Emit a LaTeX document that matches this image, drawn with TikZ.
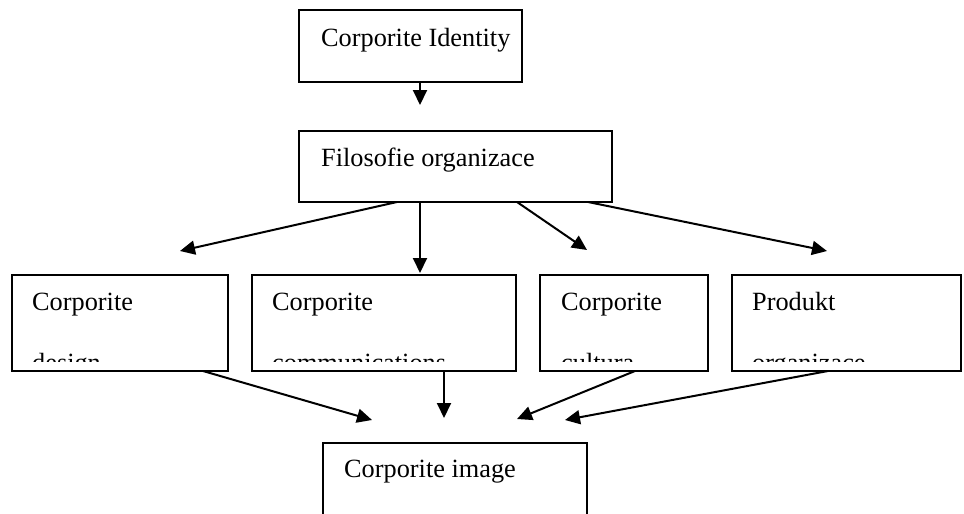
\documentclass[tikz,border=0pt]{standalone}
\usepackage{fontspec}
\setmainfont{Liberation Serif}
\usetikzlibrary{arrows.meta}
\begin{document}
\begin{tikzpicture}[x=1pt,y=-1pt,
  box/.style={draw,line width=2pt,inner sep=0pt,outer sep=0pt},
  lbl/.style={anchor=base west,inner sep=0pt,font=\fontsize{26.3}{30}\selectfont},
  arr/.style={line width=2pt,-{Triangle[length=15pt,width=14pt]}}]
\useasboundingbox (0,0) rectangle (964,514);
\clip (0,0) rectangle (964,514);
% boxes
\node[box,minimum width=223pt,minimum height=72pt] (top) at (410.5,46) {};
\node[box,minimum width=313pt,minimum height=71pt] (fil) at (455.5,166.5) {};
\node[box,minimum width=216pt,minimum height=96pt] (A) at (120,323) {};
\node[box,minimum width=264pt,minimum height=96pt] (B) at (384,323) {};
\node[box,minimum width=168pt,minimum height=96pt] (C) at (624,323) {};
\node[box,minimum width=229pt,minimum height=96pt] (D) at (846.5,323) {};
\node[box,minimum width=264pt,minimum height=97pt] (img) at (455,491.5) {};
% texts
\node[lbl] (ttop) at (321,46) {Corporite Identity};
\node[lbl] (tfil) at (321,166) {Filosofie organizace};
\node[lbl] (tA) at (32,310) {Corporite};
\node[lbl] (tB) at (272,310) {Corporite};
\node[lbl] (tC) at (561,310) {Corporite};
\node[lbl] (tD) at (752,310) {Produkt};
\node[lbl] (timg) at (344,477) {Corporite image};
\begin{scope}
\clip (0,275) rectangle (964,361);
\node[lbl] (tA2) at (32,371) {design};
\node[lbl] (tB2) at (272,371) {communications};
\node[lbl] (tC2) at (561,371) {cultura};
\node[lbl] (tD2) at (752,371) {organizace};
\end{scope}
% arrow tips
\coordinate (e1) at (420,105);
\coordinate (eA) at (180,251);
\coordinate (eB) at (420,273);
\coordinate (eC) at (587,250);
\coordinate (eD) at (827,251);
\coordinate (iA) at (372,420);
\coordinate (iB) at (444,418);
\coordinate (iC) at (517,419);
\coordinate (iD) at (565,420);
% connectors
\draw[arr] ([xshift=121pt]top.south west) -- (e1);
\draw[arr] ([xshift=98pt]fil.south west) -- (eA);
\draw[arr] ([xshift=121pt]fil.south west) -- (eB);
\draw[arr] ([xshift=218pt]fil.south west) -- (eC);
\draw[arr] ([xshift=289pt]fil.south west) -- (eD);
\draw[arr] ([xshift=191pt]A.south west) -- (iA);
\draw[arr] ([xshift=192pt]B.south west) -- (iB);
\draw[arr] ([xshift=95pt]C.south west) -- (iC);
\draw[arr] ([xshift=96pt]D.south west) -- (iD);
\end{tikzpicture}
\end{document}
